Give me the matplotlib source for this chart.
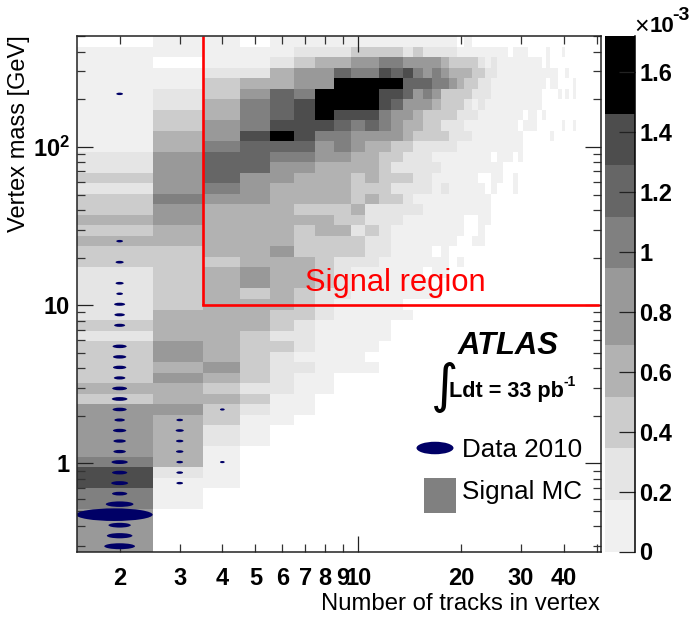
import numpy as np
import matplotlib
matplotlib.use("Agg")
import matplotlib.pyplot as plt
from matplotlib.colors import ListedColormap, BoundaryNorm
from matplotlib.collections import EllipseCollection
from matplotlib.patches import Ellipse, Rectangle
from matplotlib.transforms import IdentityTransform

plt.rcParams['font.family'] = ['Liberation Sans', 'DejaVu Sans']
plt.rcParams['mathtext.fontset'] = 'custom'
plt.rcParams['mathtext.bf'] = 'Liberation Sans:bold'
plt.rcParams['mathtext.rm'] = 'Liberation Sans:bold'

# Number of tracks: columns 2..51; vertex-mass rows, listed from the top of the plot down
TRACK_EDGES = np.arange(1.5, 52.0, 1.0)
MASS_MIN, MASS_MAX, N_MASS = 0.278, 502.0, 49

# density band of each cell (x 10^-3) for the band index used in the rows
BAND_VALUES = [0.0, 0.09, 0.26, 0.43, 0.60, 0.82, 1.03, 1.2, 1.38, 1.6]
BAND_EDGES = [0.0, 0.0005, 0.172, 0.344, 0.516, 0.688, 0.947, 1.117, 1.29, 1.46, 1.72]
BAND_COLORS = ['#ffffff', '#f0f0f0', '#e5e5e5', '#cccccc', '#b2b2b2', '#999999',
               '#808080', '#666666', '#4d4d4d', '#000000']

# each row: (last track count of the run, band index); anything beyond the last run is empty
MC_ROWS = [
 [(2,0),(4,1),(5,0),(19,1),(20,0),(21,1)],
 [(6,1),(9,2),(13,3),(14,2),(15,3),(19,2),(27,1),(28,0),(31,1),(35,0),(36,1),(39,0),(40,1)],
 [(2,1),(3,0),(5,1),(6,2),(7,3),(9,4),(11,5),(13,6),(17,5),(18,4),(22,3),(23,2),(24,1),(25,2),(34,1),(35,0),(36,1)],
 [(3,1),(5,2),(6,4),(8,5),(9,7),(11,6),(12,8),(13,7),(14,8),(15,6),(16,5),(17,6),(18,5),(21,4),(23,3),(25,2),(38,1),(40,0),(41,1)],
 [(3,1),(4,3),(6,4),(8,5),(13,9),(16,7),(18,6),(19,5),(20,4),(22,3),(24,2),(35,1),(36,0),(38,1),(42,0),(43,1)],
 [(2,1),(3,2),(4,3),(5,5),(6,7),(7,6),(11,9),(13,8),(14,7),(15,5),(16,6),(17,5),(21,3),(24,2),(34,1),(38,0),(39,1),(40,0),(41,1),(42,0),(43,1)],
 [(2,1),(3,2),(4,4),(5,6),(6,7),(7,8),(11,9),(12,8),(13,7),(16,5),(17,4),(20,3),(21,2),(22,1),(23,2),(34,1)],
 [(2,1),(3,3),(4,4),(5,6),(6,7),(7,8),(8,9),(11,8),(12,6),(14,5),(15,4),(19,3),(22,2),(30,1),(31,0),(33,1),(34,0),(35,1)],
 [(2,1),(3,3),(4,5),(5,6),(8,8),(9,7),(10,6),(11,7),(12,6),(13,5),(15,4),(17,3),(20,2),(29,1),(30,0),(33,1),(39,0),(40,1),(42,0),(43,1)],
 [(2,1),(3,4),(4,5),(5,8),(6,9),(7,8),(9,6),(13,5),(14,4),(18,3),(21,2),(30,1),(36,0),(37,1)],
 [(2,1),(3,4),(4,6),(7,7),(8,5),(9,6),(10,5),(12,4),(14,3),(19,2),(30,1)],
 [(2,2),(3,5),(5,7),(7,6),(9,5),(11,4),(13,3),(16,2),(24,1),(25,0),(28,1),(29,0),(30,1)],
 [(2,2),(3,5),(5,7),(7,5),(11,4),(12,3),(17,2),(26,1)],
 [(2,3),(3,5),(4,7),(6,5),(9,4),(10,3),(11,4),(14,3),(16,2),(22,1),(24,0),(26,1),(28,0),(29,1)],
 [(2,2),(3,5),(4,6),(5,5),(9,4),(12,3),(16,2),(17,1),(18,2),(23,1),(24,0),(25,1),(28,0),(29,1)],
 [(2,3),(3,6),(5,5),(9,4),(10,3),(11,4),(13,3),(14,2),(24,1)],
 [(2,3),(3,5),(6,4),(9,3),(10,4),(15,2),(24,1)],
 [(2,4),(3,5),(8,4),(10,3),(13,2),(20,1),(22,0),(24,1)],
 [(2,3),(6,4),(7,3),(9,4),(10,2),(11,3),(12,2),(20,1),(22,0),(23,1)],
 [(6,4),(10,3),(12,2),(19,1),(21,0),(23,1)],
 [(3,3),(5,4),(6,5),(10,3),(12,2),(16,1),(17,0),(18,1)],
 [(4,3),(7,4),(8,3),(11,2),(18,1),(19,0),(20,1)],
 [(2,2),(3,3),(4,4),(5,5),(7,4),(8,3),(9,2),(15,1),(16,0),(18,1)],
 [(2,2),(3,3),(4,4),(5,5),(7,4),(8,3),(9,2),(16,1)],
 [(2,2),(3,3),(4,4),(5,3),(6,4),(7,3),(9,2),(17,1)],
 [(2,2),(3,3),(6,4),(7,3),(8,2),(13,1)],
 [(2,2),(5,4),(7,3),(8,2),(14,1)],
 [(2,3),(5,4),(6,3),(7,2),(12,1)],
 [(2,2),(4,4),(5,3),(7,2),(12,1)],
 [(2,3),(3,5),(4,4),(6,3),(7,2),(11,1)],
 [(2,3),(3,5),(4,4),(5,3),(6,2),(10,1)],
 [(2,3),(3,4),(4,5),(5,3),(7,2),(11,1)],
 [(2,3),(3,5),(4,4),(5,3),(6,2),(8,1)],
 [(3,4),(4,3),(6,2),(8,1)],
 [(2,3),(4,4),(5,3),(7,1)],
 [(3,5),(4,3),(5,2),(7,1)],
 [(2,5),(3,4),(4,3),(6,1)],
 [(2,5),(3,4),(4,2),(5,1)],
 [(2,5),(3,4),(4,2),(5,1)],
 [(2,5),(3,4),(4,1)],
 [(2,6),(3,4),(4,1)],
 [(2,8),(3,2),(4,1)],
 [(2,8),(4,1)],
 [(2,6),(3,1)],
 [(2,6),(3,1)],
 [(2,5)],
 [(2,5)],
 [(2,5)],
 [(2,5)],
]

# data events: track count, mass-row index (from the top), relative count
DATA_TRACKS = [2]*24 + [1.93] + [2]*3 + [3]*7 + [4]*2
DATA_ROWS = [5, 19, 21, 23, 24, 25, 26, 27, 29, 30, 31, 32, 33, 34, 35, 36, 37, 38, 39, 40,
             41, 42, 43, 44, 45, 46, 47, 48,
             36, 37, 38, 39, 40, 41, 42,
             35, 40]
DATA_COUNTS = [4, 4, 6, 6, 4, 11, 10, 11, 18, 16, 16, 12, 20, 22, 18, 10, 16, 14, 14, 24,
               21, 26, 21, 69, 529, 45, 59, 85,
               4, 6, 5, 5, 4, 4, 4,
               2, 2]

X_TICKS_LABELLED = [2, 3, 4, 5, 6, 7, 8, 9, 20, 30, 40]
X_TICKS_PLAIN = [50]
Y_TICKS = [1, 10, 100]
Y_TICK_LABELS = ['1', '10', r'$\mathbf{10^{2}}$']
CB_TICKS = [0, 0.2, 0.4, 0.6, 0.8, 1.0, 1.2, 1.4, 1.6]
CB_LABELS = ['0', '0.2', '0.4', '0.6', '0.8', '1', '1.2', '1.4', '1.6']

W, H = 691, 617
fig = plt.figure(figsize=(W/100, H/100), dpi=100, facecolor='white')
def axpx(l, t, r, b):
    return fig.add_axes([l/W, 1-b/H, (r-l)/W, (b-t)/H])

ax = axpx(77, 36, 601, 551.5)
mass_edges = np.geomspace(MASS_MIN, MASS_MAX, N_MASS + 1)
grid = np.zeros((N_MASS, len(TRACK_EDGES) - 1))
for r, runs in enumerate(MC_ROWS):
    start = 2
    for last, band in runs:
        grid[N_MASS - 1 - r, start - 2:last - 1] = BAND_VALUES[band]
        start = last + 1
cmap = ListedColormap(BAND_COLORS)
norm = BoundaryNorm(BAND_EDGES, cmap.N)
ax.pcolormesh(TRACK_EDGES, mass_edges, grid, cmap=cmap, norm=norm, rasterized=True, linewidth=0)
ax.set_xscale('log'); ax.set_yscale('log')
ax.set_xlim(TRACK_EDGES[0], TRACK_EDGES[-1]); ax.set_ylim(MASS_MIN, MASS_MAX)

# data ellipses
log_edges = np.log10(mass_edges)
centres = 10**((log_edges[:-1] + log_edges[1:]) / 2)
xs = np.array(DATA_TRACKS, float)
ys = centres[N_MASS - 1 - np.array(DATA_ROWS)]
cnt = np.array(DATA_COUNTS, float)
w = 3.33 * np.sqrt(cnt)
h = 1.5 + 0.145 * w
ax.add_collection(EllipseCollection(w, h, np.zeros_like(w), units='dots',
                  offsets=np.column_stack([xs, ys]), offset_transform=ax.transData,
                  facecolors='#000066', edgecolors='none', zorder=3))

# signal region
ax.plot([3.5, 3.5], [MASS_MAX, 10], color='#ff0000', lw=1.9, solid_capstyle='butt', zorder=4)
ax.plot([3.5, 50.3], [10, 10], color='#ff0000', lw=1.9, solid_capstyle='projecting', zorder=4)

# axes, ticks
tick_font = dict(fontsize=17, fontweight='bold')
ax.set_xticks([10]); ax.set_xticklabels(['10'], **tick_font)
ax.set_xticks(X_TICKS_LABELLED + X_TICKS_PLAIN, minor=True)
ax.set_xticklabels([str(v) for v in X_TICKS_LABELLED] + [''], minor=True, **tick_font)
ax.set_yticks(Y_TICKS); ax.set_yticklabels(Y_TICK_LABELS, **tick_font)
ax.set_yticks([m*d for d in (0.1, 1, 10, 100) for m in range(2, 10) if 0.278 < m*d < 502], minor=True)
ax.set_yticklabels([], minor=True)
ax.tick_params(which='major', direction='in', length=11.5, width=0.9, top=True, right=True, color='#222222')
ax.tick_params(which='minor', direction='in', length=5.8, width=0.9, top=True, right=True, color='#333333')
ax.tick_params(axis='x', which='both', pad=11)
ax.tick_params(axis='y', which='both', pad=5)
for s in ax.spines.values():
    s.set_linewidth(1.1); s.set_color('#222222'); s.set_zorder(5)

# colour bar
cax = axpx(605, 36, 635, 551.5)
cb_edges = np.array(BAND_EDGES[1:])
cb_edges[0] = 0.0
cax.pcolormesh([0, 1], cb_edges, np.array(BAND_VALUES[1:])[:, None], cmap=cmap, norm=norm, linewidth=0, rasterized=True)
cax.set_xlim(0, 1); cax.set_ylim(0, 1.72)
cax.set_xticks([])
cax.set_yticks(CB_TICKS); cax.set_yticklabels(CB_LABELS, **tick_font)
cax.tick_params(direction='in', length=11.5, width=0.9, left=False, right=True,
                labelleft=False, labelright=True, pad=3, color='#222222')
for k, s in cax.spines.items():
    s.set_visible(k == 'right'); s.set_linewidth(1.1)

def T(x, y, s, **kw):
    kw.setdefault('va', 'center'); kw.setdefault('ha', 'left')
    return fig.text(x/W, 1-y/H, s, **kw)

T(600, 604, 'Number of tracks in vertex', ha='right', fontsize=17.2)
T(19, 134, 'Vertex mass [GeV]', ha='center', rotation=90, fontsize=17)
T(305, 283, 'Signal region', color='#ff0000', fontsize=22.2)
T(458, 346, 'ATLAS', fontsize=22.3, fontweight='bold', fontstyle='italic')
T(431, 387, '\u222b', fontsize=38, family='DejaVu Sans')
T(449, 391, 'Ldt = 33 pb', fontsize=15.6, fontweight='bold')
T(564, 382, '-1', fontsize=10, fontweight='bold')
T(462, 450, 'Data 2010', fontsize=18.7)
T(462, 492, 'Signal MC', fontsize=18.7)
T(634, 27, '\u00d7', fontsize=18)
T(650, 27, '10', fontsize=16, fontweight='bold')
T(672, 15, '-3', fontsize=14, fontweight='bold')

px_tf = IdentityTransform()
fig.add_artist(Ellipse((435, H-448), 37, 12.5, transform=px_tf, facecolor='#000066', edgecolor='none'))
fig.add_artist(Rectangle((424, H-513), 32, 35, transform=px_tf, facecolor='#808080', edgecolor='none'))

fig.savefig('out.png', dpi=100)
